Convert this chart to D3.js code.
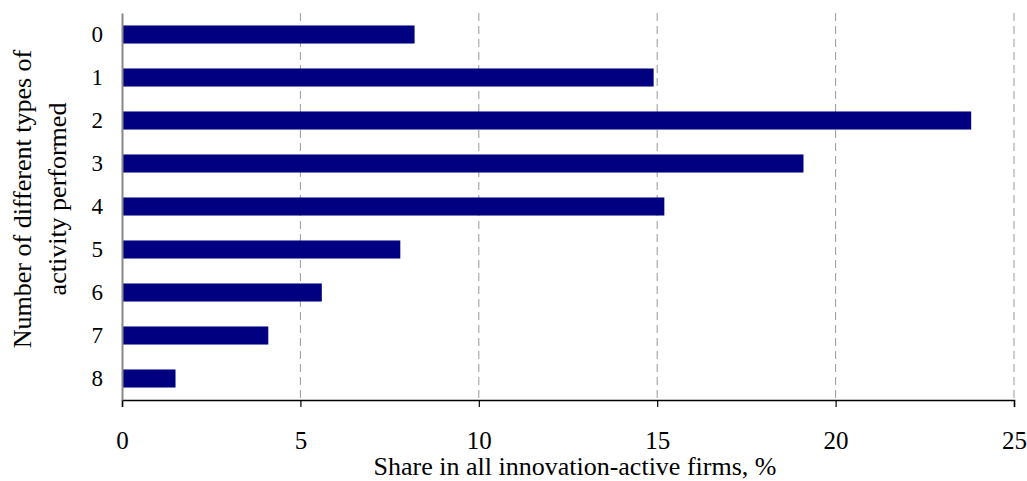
<!DOCTYPE html>
<html>
<head>
<meta charset="utf-8">
<script src="https://cdn.jsdelivr.net/npm/d3@7"></script>
<style>
  body { margin: 0; background: #fff; }
  text { font-family: "Liberation Serif", "Times New Roman", serif; fill: #000; }
</style>
</head>
<body>
<div id="chart"></div>
<script>
// number of activity types and the share of firms for each
const categories = ["0", "1", "2", "3", "4", "5", "6", "7", "8"]
const shares = [8.2, 14.9, 23.8, 19.1, 15.2, 7.8, 5.6, 4.1, 1.5]
const xTicks = [0, 5, 10, 15, 20, 25]
const xTitle = "Share in all innovation-active firms, %"
const yTitle = ["Number of different types of", "activity performed"]

const dataset = categories.map((c, i) => ({ cat: c, value: shares[i] }))

const dimensions = {
    width: 1027,
    height: 481,
    margin: { top: 13, right: 13, bottom: 81, left: 122 }
}
dimensions.boundedWidth = dimensions.width - dimensions.margin.left - dimensions.margin.right
dimensions.boundedHeight = dimensions.height - dimensions.margin.top - dimensions.margin.bottom

const wrapper = d3.select("#chart")
    .append("svg")
        .attr("width", dimensions.width)
        .attr("height", dimensions.height)

const bounds = wrapper.append("g")
    .attr("transform", `translate(${dimensions.margin.left},${dimensions.margin.top})`)

const xScale = d3.scaleLinear()
    .domain([0, 25])
    .range([0, 892])

const yScale = d3.scaleBand()
    .domain(categories)
    .range([0, dimensions.boundedHeight])
    .paddingInner(0.58)
    .paddingOuter(0.29)

// dashed gridlines
bounds.append("g")
    .selectAll("line")
    .data(xTicks.filter(t => t > 0))
    .join("line")
        .attr("x1", d => xScale(d))
        .attr("x2", d => xScale(d))
        .attr("y1", 0)
        .attr("y2", yScale.range()[1])
        .attr("stroke", "#999")
        .attr("stroke-width", 1)
        .attr("stroke-dasharray", "8,5")

// bars
bounds.append("g")
    .selectAll("rect")
    .data(dataset)
    .join("rect")
        .attr("x", 0)
        .attr("y", d => yScale(d.cat))
        .attr("width", d => xScale(d.value))
        .attr("height", yScale.bandwidth())
        .attr("fill", "#000080")

// x axis
const xAxis = bounds.append("g")
    .attr("transform", `translate(0,${yScale.range()[1]})`)
    .call(d3.axisBottom(xScale).tickValues(xTicks).tickSize(7))
xAxis.select(".domain").attr("stroke", "#000").attr("stroke-width", 1.5)
xAxis.selectAll(".tick line").attr("stroke", "#000").attr("stroke-width", 1.2)
xAxis.selectAll(".tick text")
    .attr("y", 49)
    .attr("dy", 0)
    .style("font-family", '"Liberation Serif", serif')
    .style("font-size", "25px")
    .attr("fill", "#000")

// y axis
const yAxis = bounds.append("g")
    .call(d3.axisLeft(yScale).tickSize(0).tickPadding(19))
yAxis.select(".domain").attr("stroke", "#888").attr("stroke-width", 2)
yAxis.selectAll(".tick text")
    .style("font-family", '"Liberation Serif", serif')
    .style("font-size", "23px")
    .attr("fill", "#000")

// axis titles
wrapper.append("text")
    .attr("x", dimensions.margin.left + xScale(12.5) + 7)
    .attr("y", 475)
    .attr("text-anchor", "middle")
    .style("font-size", "26px")
    .text(xTitle)

const yTitleText = wrapper.append("text")
    .attr("transform", `translate(31,199) rotate(-90)`)
    .attr("text-anchor", "middle")
    .style("font-size", "26px")
yTitleText.selectAll("tspan")
    .data(yTitle)
    .join("tspan")
        .attr("x", 0)
        .attr("dy", (d, i) => i === 0 ? 0 : 35)
        .text(d => d)
</script>
</body>
</html>
